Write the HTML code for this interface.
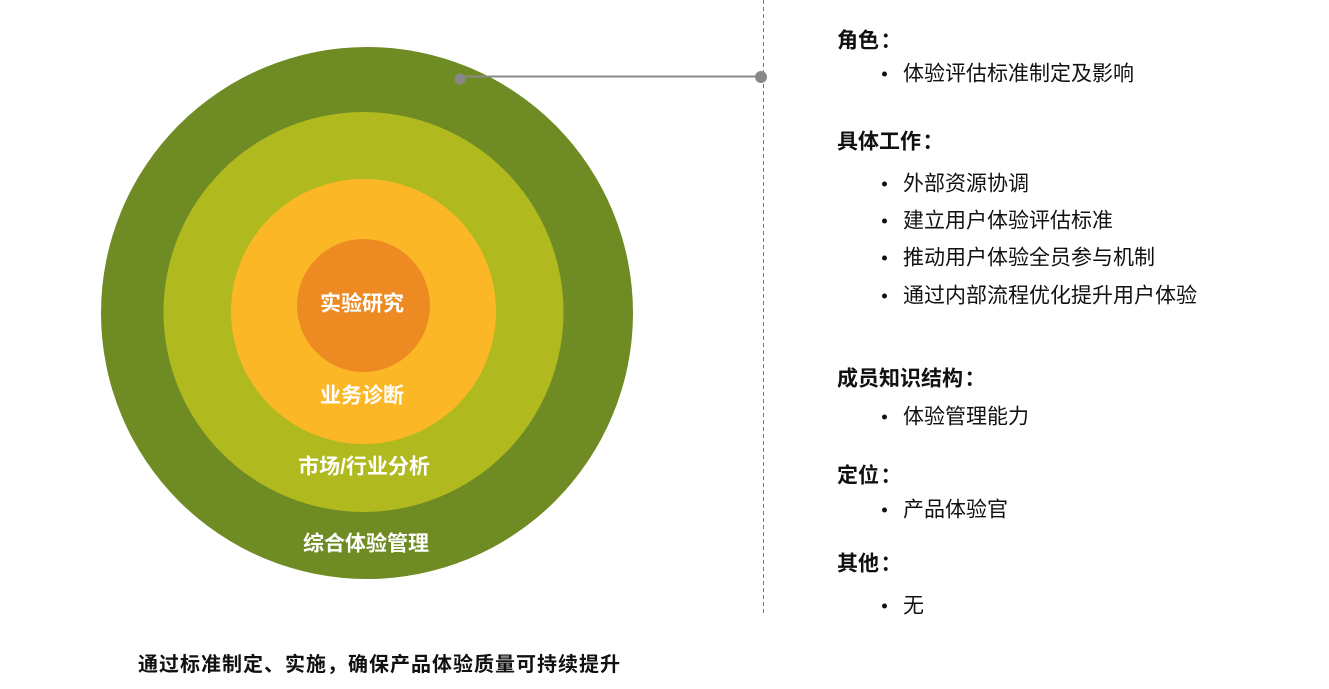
<!DOCTYPE html>
<html><head><meta charset="utf-8"><style>
body{margin:0;width:1329px;height:689px;background:#fff;overflow:hidden;position:relative;font-family:"Liberation Sans","Noto Sans CJK SC",sans-serif}
.t{position:absolute;white-space:nowrap;line-height:1;transform:translateY(-50%)}
.h{font-weight:bold;font-size:21px;color:#111;left:837px}
.h span{display:inline-block;width:24px;text-align:center}
.i{font-size:21px;color:#111;left:903px}
.b{position:absolute;width:5px;height:5px;border-radius:50%;background:#111;left:882px;transform:translateY(-50%)}
.c{position:absolute;white-space:nowrap;line-height:1;transform:translate(-50%,-50%);color:#fff;font-weight:bold;font-size:21px}
</style></head><body>
<svg width="1329" height="689" style="position:absolute;left:0;top:0">
<circle cx="367" cy="313" r="266" fill="#6e8b24"/>
<circle cx="363.5" cy="312" r="200" fill="#b0ba1f"/>
<circle cx="363.5" cy="311.5" r="132.5" fill="#fbb726"/>
<circle cx="363.5" cy="305.5" r="66.5" fill="#ee8a22"/>
<line x1="763.5" y1="0" x2="763.5" y2="613" stroke="#777" stroke-width="1" stroke-dasharray="4,3"/>
<line x1="460" y1="76.5" x2="761" y2="76.5" stroke="#888" stroke-width="2"/>
<circle cx="460" cy="79" r="5.5" fill="#888"/>
<circle cx="761" cy="77" r="6" fill="#888"/>
</svg>
<div class="c" style="left:362px;top:304px">实验研究</div>
<div class="c" style="left:362px;top:396px">业务诊断</div>
<div class="c" style="left:364px;top:467px">市场/行业分析</div>
<div class="c" style="left:366px;top:544px">综合体验管理</div>

<div class="t h" style="top:41px">角色<span>：</span></div>
<div class="b" style="top:74px"></div><div class="t i" style="top:74px">体验评估标准制定及影响</div>
<div class="t h" style="top:142px">具体工作<span>：</span></div>
<div class="b" style="top:184px"></div><div class="t i" style="top:184px">外部资源协调</div>
<div class="b" style="top:221px"></div><div class="t i" style="top:221px">建立用户体验评估标准</div>
<div class="b" style="top:258px"></div><div class="t i" style="top:258px">推动用户体验全员参与机制</div>
<div class="b" style="top:296px"></div><div class="t i" style="top:296px">通过内部流程优化提升用户体验</div>
<div class="t h" style="top:379px">成员知识结构<span>：</span></div>
<div class="b" style="top:417px"></div><div class="t i" style="top:417px">体验管理能力</div>
<div class="t h" style="top:476px">定位<span>：</span></div>
<div class="b" style="top:510px"></div><div class="t i" style="top:510px">产品体验官</div>
<div class="t h" style="top:564px">其他<span>：</span></div>
<div class="b" style="top:606px"></div><div class="t i" style="top:606px">无</div>

<div class="t" style="left:138px;top:665px;font-weight:bold;font-size:20px;letter-spacing:1px;color:#111">通过标准制定、实施，确保产品体验质量可持续提升</div>
</body></html>
